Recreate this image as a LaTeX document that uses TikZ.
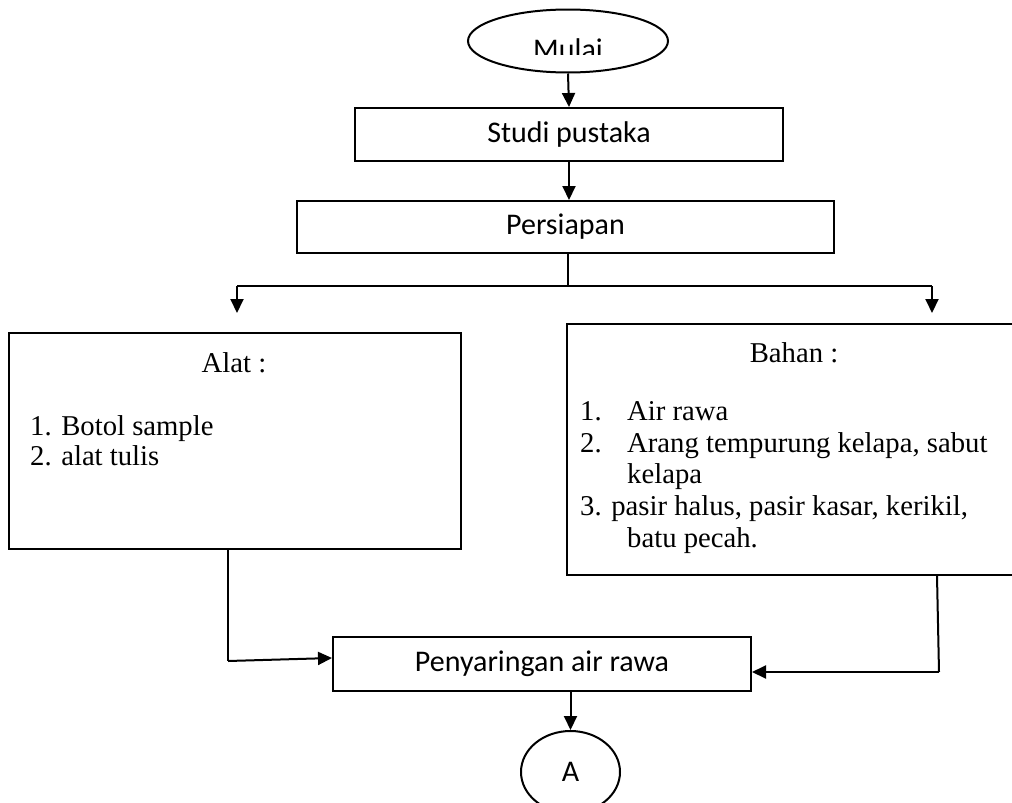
\documentclass[tikz,border=0pt]{standalone}
\usepackage{fontspec}
\setmainfont{Liberation Serif}
\newfontfamily\calfont{Carlito}
\usetikzlibrary{arrows.meta,shapes.geometric}
\begin{document}
\begin{tikzpicture}[x=1pt,y=-1pt,
  box/.style={draw,line width=2pt,minimum width=#1,inner sep=0pt},
  flowtext/.style={font=\calfont\fontsize{30pt}{36pt}\selectfont},
  sertext/.style={font=\fontsize{28.7pt}{32pt}\selectfont},
  listtext/.style={sertext,anchor=base west,inner sep=0pt},
  conn/.style={line width=2pt},
  arr/.style={conn,-{Triangle[length=14pt,width=13pt]}}]
\useasboundingbox (0,0) rectangle (1012,803);
% terminals
\node[draw,ellipse,line width=2pt,minimum width=200pt,minimum height=63pt,inner sep=0pt] (mulai) at (568,41) {};
\begin{scope}
\clip (460,20) rectangle (680,54);
\node[flowtext,anchor=base,inner sep=0pt] (mulaitxt) at (568,59) {Mulai};
\end{scope}
\node[box=428pt,minimum height=53pt,flowtext] (studi) at (569,134.5) {Studi pustaka};
\node[box=537pt,minimum height=52pt,flowtext] (persiapan) at (565.5,227) {Persiapan};
\node[box=452pt,minimum height=216pt] (alat) at (235,441) {};
\node[box=454pt,minimum height=251pt] (bahan) at (794,449.5) {};
\node[box=418pt,minimum height=54pt,flowtext] (saring) at (542,664) {Penyaringan air rawa};
\node[draw,ellipse,line width=2pt,minimum width=99pt,minimum height=82pt,inner sep=0pt,flowtext] (A) at (570.5,772) {A};
% Alat text
\node[sertext,anchor=base,inner sep=0pt] (alath) at (234,372) {Alat :};
\node[listtext] (a1) at (30,435) {1. Botol sample};
\node[listtext] (a2) at (30,465) {2. alat tulis};
% Bahan text
\node[sertext,anchor=base,inner sep=0pt] (bahanh) at (794,362) {Bahan :};
\node[listtext] (b1n) at (580,420) {1.};
\node[listtext] (b1) at (627,420) {Air rawa};
\node[listtext] (b2n) at (580,452) {2.};
\node[listtext] (b2) at (627,452) {Arang tempurung kelapa, sabut};
\node[listtext] (b2b) at (627,483) {kelapa};
\node[listtext] (b3) at (580,515) {3. pasir halus, pasir kasar, kerikil,};
\node[listtext] (b3b) at (627,547) {batu pecah.};
% connectors
\coordinate (split) at (568,286);
\coordinate (lt) at (237,286);
\coordinate (rt) at (932,286);
\coordinate (ltip) at (237,313);
\coordinate (rtip) at (932,313);
\coordinate (lc) at (228,661);
\coordinate (rc) at (939,672);
\draw[arr] (mulai.south) -- (studi.north);
\draw[arr] (studi.south) -- (persiapan.north -| studi.south);
\draw[conn] (persiapan.south -| split) -- (split);
\draw[conn] (lt) -- (rt);
\draw[arr] (lt) -- (ltip);
\draw[arr] (rt) -- (rtip);
\draw[conn] (alat.south -| lc) -- (lc);
\draw[arr] (lc) -- (saring.west |- 0,658);
\draw[conn] (bahan.south -| 937,0) -- (rc);
\draw[arr] (rc) -- (saring.east |- rc);
\draw[arr] (saring.south -| A.north) -- (A.north);
\end{tikzpicture}
\end{document}
